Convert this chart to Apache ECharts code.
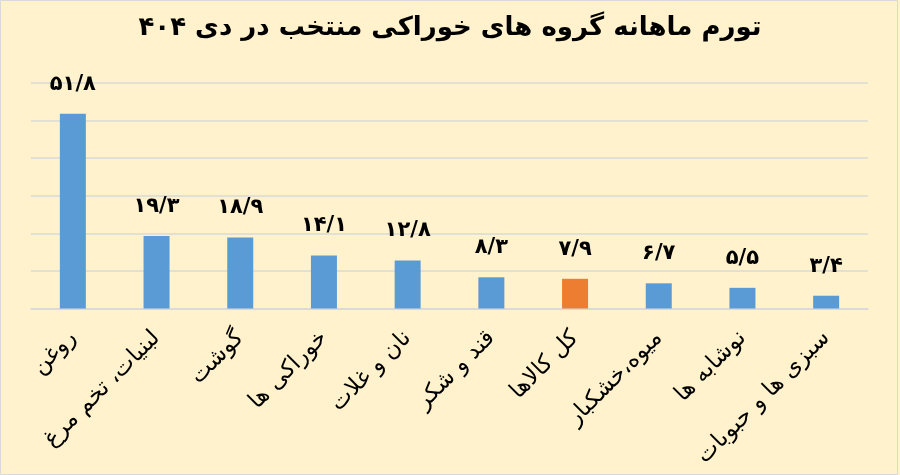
<!DOCTYPE html>
<html>
<head>
<meta charset="utf-8">
<script src="https://cdn.jsdelivr.net/npm/echarts@6/dist/echarts.min.js"></script>
<style>
html,body{margin:0;padding:0;background:#fff2cc;}
#chart{width:900px;height:475px;}
</style>
</head>
<body>
<div id="chart"></div>
<script>
const titleText = 'تورم ماهانه گروه های خوراکی منتخب در دی ۴۰۴';
const categories = ['روغن', 'لبنیات، تخم مرغ', 'گوشت', 'خوراکی ها', 'نان و غلات', 'قند و شکر', 'کل کالاها', 'میوه،خشکبار', 'نوشابه ها', 'سبزی ها و حبوبات'];
const values = [51.8, 19.3, 18.9, 14.1, 12.8, 8.3, 7.9, 6.7, 5.5, 3.4];
const highlightCategory = 'کل کالاها';
const yMin = 0, yMax = 60, yInterval = 10;

const FA = '۰۱۲۳۴۵۶۷۸۹';
function toFa(v) {
  return String(v).replace('.', '/').replace(/[0-9]/g, d => FA[+d]);
}

const chart = echarts.init(document.getElementById('chart'));
chart.setOption({
  backgroundColor: '#fff2cc',
  animation: false,
  title: {
    text: titleText,
    left: 'center',
    top: 10,
    textStyle: { fontFamily: 'DejaVu Sans', fontWeight: 'bold', fontSize: 26, color: '#000' }
  },
  graphic: [{
    type: 'rect',
    shape: { x: 0.5, y: 0.5, width: 897, height: 474 },
    style: { fill: 'none', stroke: '#d9d9d9', lineWidth: 1 },
    silent: true
  }],
  grid: { left: 31, right: 32, top: 83, bottom: 166.5 },
  xAxis: {
    type: 'category',
    data: categories,
    axisLine: { show: true, lineStyle: { color: '#d9d9d9', width: 1.5 } },
    axisTick: { show: false },
    axisLabel: {
      rotate: 45,
      margin: 26,
      interval: 0,
      fontFamily: 'DejaVu Sans',
      fontSize: 23,
      color: '#000'
    }
  },
  yAxis: {
    type: 'value',
    min: yMin,
    max: yMax,
    interval: yInterval,
    axisLabel: { show: false },
    axisLine: { show: false },
    axisTick: { show: false },
    splitLine: { show: true, lineStyle: { color: '#d9d9d9', width: 1.5 } }
  },
  series: [{
    type: 'bar',
    barWidth: 26,
    data: values.map((v, i) => ({
      value: v,
      itemStyle: { color: categories[i] === highlightCategory ? '#ed7d31' : '#5b9bd5' }
    })),
    label: {
      show: true,
      position: 'top',
      distance: 19,
      fontFamily: 'DejaVu Sans',
      fontWeight: 'bold',
      fontSize: 21,
      color: '#000',
      formatter: p => toFa(p.value)
    }
  }]
});
</script>
</body>
</html>
